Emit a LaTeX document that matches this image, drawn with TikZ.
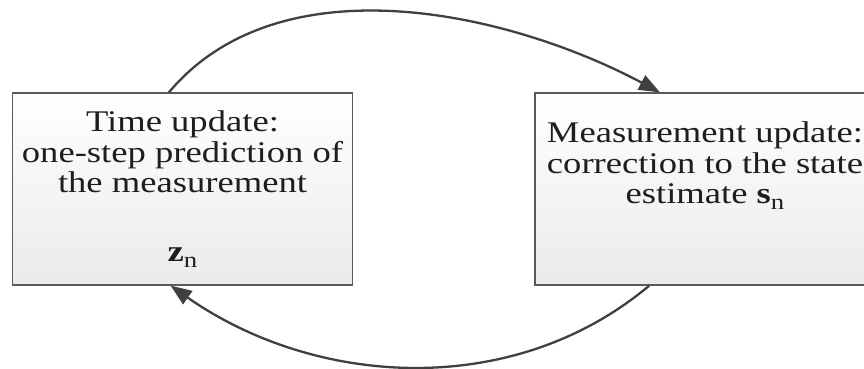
\documentclass[tikz,border=0pt]{standalone}
\usepackage{fontspec}
\setmainfont{Liberation Serif}
\usepackage{xcolor}
\definecolor{arcgray}{HTML}{404040}
\definecolor{boxgray}{HTML}{5A5A5A}
\definecolor{txtgray}{HTML}{1E1E1E}
\newcommand{\subn}[1]{#1\raisebox{-6pt}{\fontsize{22}{22}\selectfont n}}
\usepackage{tikz}
\usetikzlibrary{arrows.meta}
\usetikzlibrary{positioning}

\begin{document}
\begin{tikzpicture}[x=1pt, y=1pt,
    updbox/.style={draw=boxgray, line width=1.3pt, top color=white,
      bottom color=black!8, minimum width=340pt, minimum height=192pt,
      inner sep=0pt},
    updtext/.style={align=center, inner sep=0pt, text=txtgray,
      xscale=1.22, transform shape,
      font=\fontsize{30}{30.5}\selectfont},
    loop arc/.style={draw=arcgray, line width=2.3pt,
      -{Triangle[length=21pt, width=16pt]}}]

    \useasboundingbox (0, 0) rectangle (864, 369);
    \clip (0, 0) rectangle (864, 369);

    \node [updbox] (ltbox) at (182.5, 180) {};
    \node [updbox] (rtbox) at (705, 180) {};

    \node [updtext, below=18.5pt of ltbox.north] (lttext)
    {Time update:\\ one-step prediction of\\ the measurement\\[38pt]
     \subn{\textbf{z}}};

    \node [updtext, below=29.5pt of rtbox.north] (rttext)
    {Measurement update:\\ correction to the state\\
     estimate \subn{\textbf{s}}};

    \draw [loop arc] (ltbox.98) to [out=50, in=152, looseness=0.9] (rtbox.115);
    \draw [loop arc] (rtbox.240) to [out=220, in=-35, looseness=0.95] (ltbox.263);

  \end{tikzpicture}
\end{document}
